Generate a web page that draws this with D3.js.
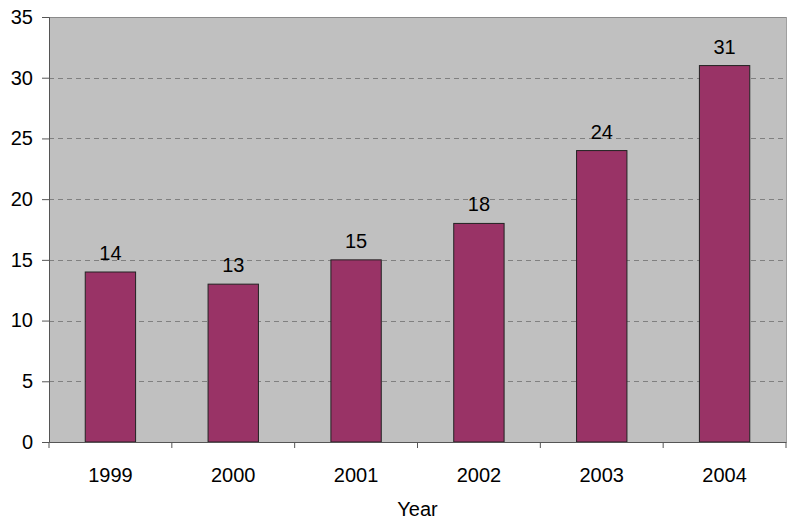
<!DOCTYPE html>
<html><head><meta charset="utf-8">
<script src="https://cdn.jsdelivr.net/npm/d3@7"></script>
<style>body{margin:0;background:#fff}svg{display:block}text{font-family:"Liberation Sans",Arial,sans-serif;fill:#000}</style>
</head><body><svg id="c" width="800" height="525"></svg>
<script>
const years = ["1999","2000","2001","2002","2003","2004"];
const values = [14,13,15,18,24,31];
const yTicks = [0,5,10,15,20,25,30,35];
const xTitle = "Year";

const svg = d3.select("#c");
const m = {l:49, t:17, r:786, b:442};
const x = d3.scaleBand().domain(years).range([m.l, m.r]).paddingInner(0.59).paddingOuter(0.295);
const xc = d3.scaleBand().domain(years).range([m.l, m.r]);
const y = d3.scaleLinear().domain([0,35]).range([m.b, m.t]);

svg.append("rect").attr("x",m.l).attr("y",m.t).attr("width",m.r-m.l).attr("height",m.b-m.t).attr("fill","#C0C0C0");

// gridlines
svg.append("g").selectAll("line").data(yTicks.filter(d=>d>0 && d<35)).join("line")
  .attr("x1",m.l).attr("x2",m.r).attr("y1",d=>Math.round(y(d))+0.5).attr("y2",d=>Math.round(y(d))+0.5)
  .attr("stroke","#808080").attr("stroke-width",1).attr("stroke-dasharray","5,4");
// top and right border
svg.append("line").attr("x1",m.l).attr("x2",m.r).attr("y1",m.t+0.5).attr("y2",m.t+0.5).attr("stroke","#8a8a8a");
svg.append("line").attr("x1",m.r+0.5).attr("x2",m.r+0.5).attr("y1",m.t).attr("y2",m.b).attr("stroke","#a0a0a0");

// bars
svg.append("g").selectAll("rect").data(values).join("rect")
  .attr("x",(d,i)=>x(years[i])).attr("width",x.bandwidth())
  .attr("y",d=>y(d)).attr("height",d=>m.b-y(d))
  .attr("fill","#993366").attr("stroke","#222").attr("stroke-width",1);

// value labels
svg.append("g").selectAll("text").data(values).join("text")
  .attr("x",(d,i)=>x(years[i])+x.bandwidth()/2).attr("y",d=>y(d)-12)
  .attr("text-anchor","middle").attr("font-size",20).text(d=>d);

// y axis
const ya = svg.append("g").attr("transform",`translate(${m.l},0)`)
  .call(d3.axisLeft(y).tickValues(yTicks).tickSize(7).tickPadding(9));
ya.select(".domain").attr("stroke","#555");
ya.selectAll(".tick line").attr("stroke","#555");
ya.selectAll("text").attr("font-size",20).attr("font-family","Liberation Sans, Arial, sans-serif").attr("fill","#000");

// x axis
const xa = svg.append("g").attr("transform",`translate(0,${m.b})`)
  .call(d3.axisBottom(xc).tickSize(0).tickPadding(26));
xa.select(".domain").attr("stroke","#555");
xa.selectAll("text").attr("font-size",20).attr("font-family","Liberation Sans, Arial, sans-serif").attr("fill","#000");
// category boundary ticks
svg.append("g").selectAll("line").data(years.concat(["end"])).join("line")
  .attr("x1",(d,i)=> i<years.length ? xc(d) : m.r).attr("x2",(d,i)=> i<years.length ? xc(d) : m.r)
  .attr("y1",m.b).attr("y2",m.b+6).attr("stroke","#555");

svg.append("text").attr("x",(m.l+m.r)/2).attr("y",516).attr("text-anchor","middle").attr("font-size",20).text(xTitle);
</script></body></html>
